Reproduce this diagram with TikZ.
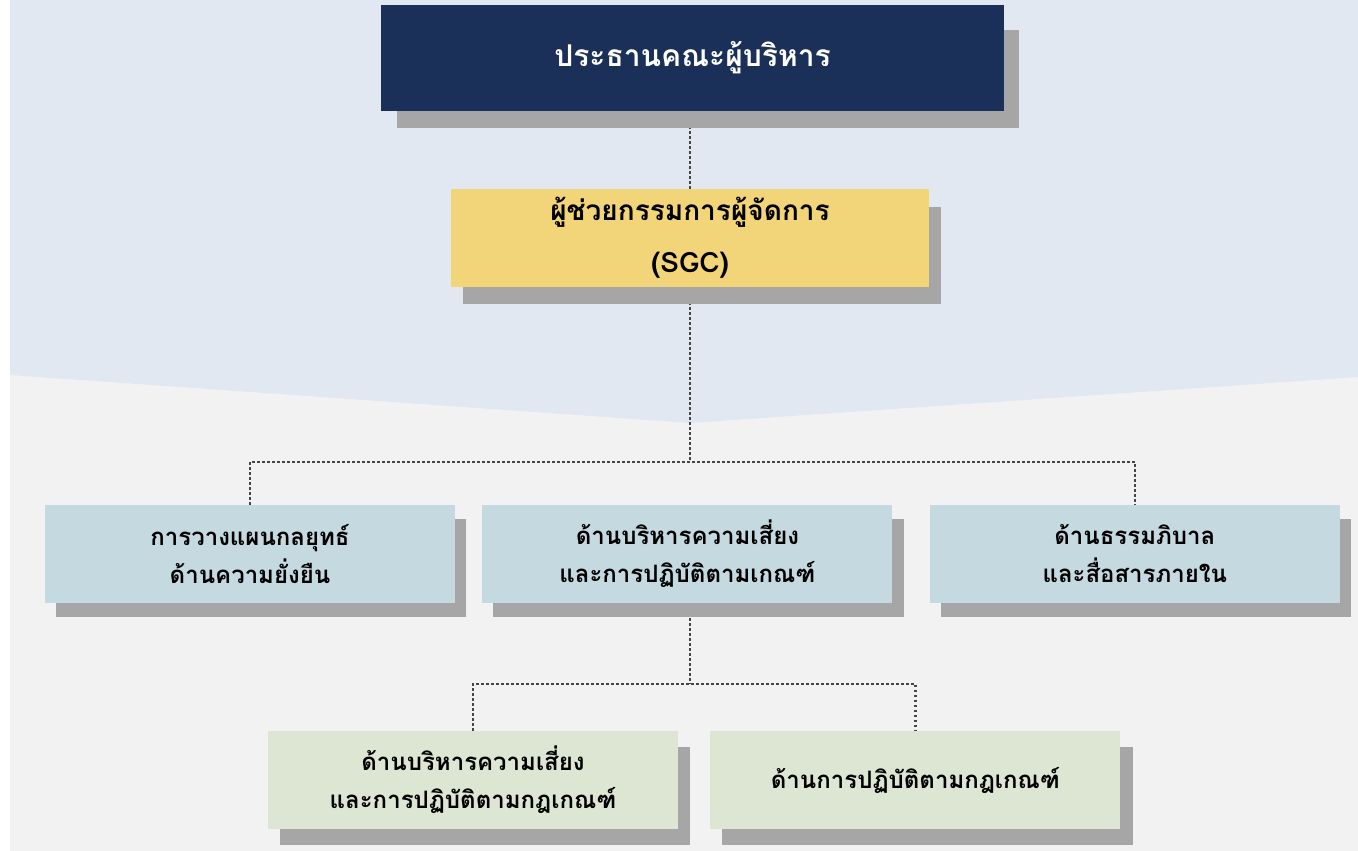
\documentclass[tikz,border=0pt]{standalone}
\usepackage{fontspec}
\newfontfamily\thaifont[Script=Thai]{Loma}
\usetikzlibrary{positioning}

\pgfdeclarelayer{back}
\pgfdeclarelayer{lines}
\pgfdeclarelayer{shade}
\pgfsetlayers{back,lines,shade,main}

\definecolor{navy}{HTML}{1B3059}
\definecolor{sgcyellow}{HTML}{F2D479}
\definecolor{unitblue}{HTML}{C5D9E0}
\definecolor{subgreen}{HTML}{DCE6D2}
\definecolor{shadowgray}{HTML}{A6A6A6}
\definecolor{bgblue}{HTML}{E1E8F2}
\definecolor{bggray}{HTML}{F2F2F2}
\definecolor{linkgray}{HTML}{454545}

\tikzset{
  orgbox/.style={rectangle, inner sep=0pt, align=center, text=black,
    font=\thaifont\bfseries\fontsize{24}{38}\selectfont},
  unitbox/.style={orgbox, fill=unitblue, minimum width=410pt, minimum height=98pt},
  subbox/.style={orgbox, fill=subgreen, minimum width=410pt, minimum height=98pt},
  link/.style={linkgray, line width=2.4pt, dash pattern=on 2.4pt off 2.6pt},
}

\begin{document}
\begin{tikzpicture}[x=1pt, y=-1pt]
  \useasboundingbox (0,0) rectangle (1358,851);

  % Background
  \begin{pgfonlayer}{back}
    \fill[bggray] (10,0) rectangle (1358,851);
    \fill[bgblue] (10,0) -- (1358,0) -- (1358,377) -- (690,423) -- (10,375) -- cycle;
  \end{pgfonlayer}

  % Boxes
  \node[orgbox, fill=navy, text=white, minimum width=623pt, minimum height=106pt,
        font=\thaifont\bfseries\fontsize{30}{34}\selectfont] (chair) at (692.5,58) {ประธานคณะผู้บริหาร};
  \node[orgbox, fill=sgcyellow, minimum width=478pt, minimum height=98pt,
        font=\thaifont\bfseries\fontsize{28}{52}\selectfont] (sgc) at (690,238) {ผู้ช่วยกรรมการผู้จัดการ\\(SGC)};

  \node[unitbox] (plan) at (250,554) {การวางแผนกลยุทธ์\\ด้านความยั่งยืน};
  \node[unitbox, right=27pt of plan] (risk) {ด้านบริหารความเสี่ยง\\และการปฏิบัติตามเกณฑ์};
  \node[unitbox, right=37pt of risk] (gov) {ด้านธรรมภิบาล\\และสื่อสารภายใน};

  \node[subbox] (riskmgmt) at (473,780) {ด้านบริหารความเสี่ยง\\และการปฏิบัติตามกฎเกณฑ์};
  \node[subbox, right=32pt of riskmgmt] (comply) {ด้านการปฏิบัติตามกฎเกณฑ์};

  % Shadows
  \begin{pgfonlayer}{shade}
    \fill[shadowgray] ([shift={(16,25)}]chair.north west) rectangle ([shift={(15,17)}]chair.south east);
    \fill[shadowgray] ([shift={(12,18)}]sgc.north west) rectangle ([shift={(12,17)}]sgc.south east);
    \foreach \n in {plan, risk, gov}
      \fill[shadowgray] ([shift={(11,14)}]\n.north west) rectangle ([shift={(11,14)}]\n.south east);
    \foreach \n in {riskmgmt, comply}
      \fill[shadowgray] ([shift={(12,16)}]\n.north west) rectangle ([shift={(12,16)}]\n.south east);
  \end{pgfonlayer}

  % Connectors
  \coordinate (split) at (690,462);
  \coordinate (subsplit) at (690,684);
  \begin{pgfonlayer}{lines}
    \draw[link] (sgc.north |- chair.south) -- (sgc.north);
    \draw[link] (sgc.south) -- (split);
    \draw[link] (plan.north) |- (split) -| (gov.north);
    \draw[link] (subsplit |- risk.south) -- (subsplit);
    \draw[link] (riskmgmt.north) |- (subsplit) -| (comply.north);
  \end{pgfonlayer}
\end{tikzpicture}
\end{document}
